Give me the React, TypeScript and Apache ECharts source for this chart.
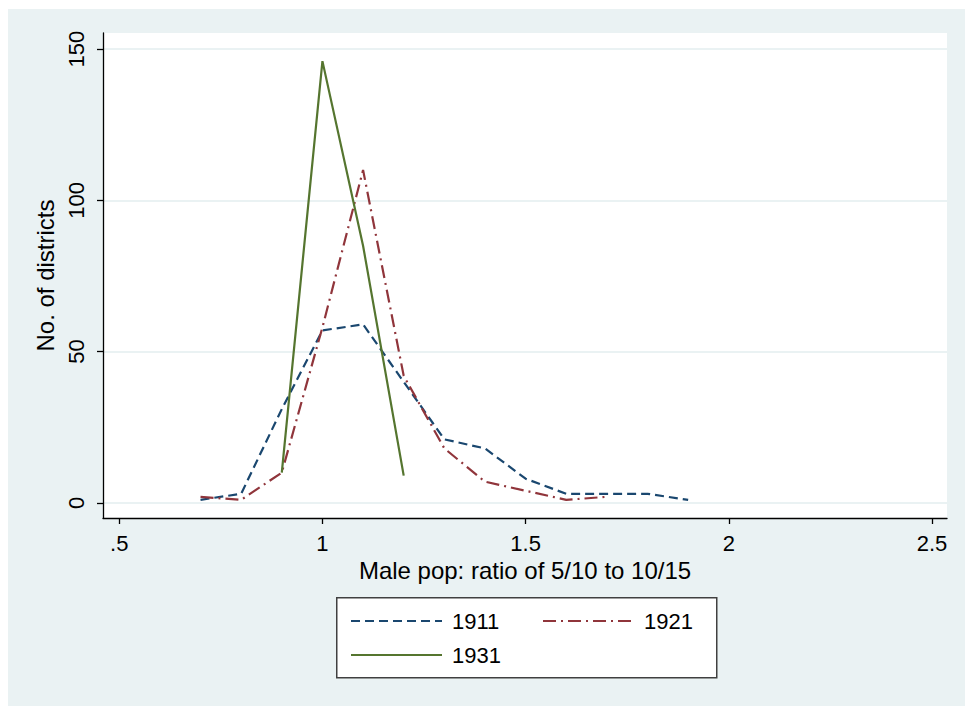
import React, { useEffect, useRef } from "react";
import * as echarts from "echarts";

const x1911 = [0.7, 0.8, 0.9, 1.0, 1.1, 1.2, 1.3, 1.4, 1.5, 1.6, 1.7, 1.8, 1.9];
const y1911 = [1, 3, 31, 57, 59, 40, 21, 18, 8, 3, 3, 3, 1];
const x1921 = [0.7, 0.8, 0.9, 1.0, 1.1, 1.2, 1.3, 1.4, 1.5, 1.6, 1.7];
const y1921 = [2, 1, 10, 58, 110, 42, 18, 7, 4, 1, 2];
const x1931 = [0.9, 1.0, 1.1, 1.2];
const y1931 = [10, 146, 85, 9];
const xTicks = [0.5, 1, 1.5, 2, 2.5];
const yTicks = [0, 50, 100, 150];

const FONT = "'Liberation Sans', Arial, Helvetica, sans-serif";
const pairs = (xs: number[], ys: number[]) => xs.map((x, i) => [x, ys[i]]);

export default function App() {
  const ref = useRef<HTMLDivElement>(null);
  useEffect(() => {
    if (!ref.current) return;
    const chart = echarts.init(ref.current, undefined, { renderer: "svg" });
    chart.setOption({
      animation: false,
      backgroundColor: "#eaf2f3",
      textStyle: { fontFamily: FONT },
      grid: {
        left: 95,
        right: 18,
        top: 24,
        bottom: 188,
        show: true,
        backgroundColor: "#ffffff",
        borderWidth: 0,
      },
      xAxis: {
        type: "value",
        min: 0.46,
        max: 2.537,
        name: "Male pop: ratio of 5/10 to 10/15",
        nameLocation: "middle",
        nameGap: 40,
        nameTextStyle: { fontSize: 24, color: "#000", fontFamily: FONT },
        axisLine: { show: true, onZero: false, lineStyle: { color: "#000", width: 1.3 } },
        axisTick: { show: true, length: 6, customValues: xTicks, lineStyle: { color: "#000", width: 1.3 } },
        axisLabel: {
          customValues: xTicks,
          fontSize: 22,
          color: "#000",
          margin: 14,
          fontFamily: FONT,
          formatter: (v: number) => (v === 0.5 ? ".5" : String(v)),
        },
        splitLine: { show: false },
      },
      yAxis: {
        type: "value",
        min: -5,
        max: 155.3,
        name: "No. of districts",
        nameLocation: "middle",
        nameGap: 42,
        nameTextStyle: { fontSize: 24, color: "#000", fontFamily: FONT },
        axisLine: { show: true, onZero: false, lineStyle: { color: "#000", width: 1.3 } },
        axisTick: { show: true, length: 6, customValues: yTicks, lineStyle: { color: "#000", width: 1.3 } },
        axisLabel: {
          customValues: yTicks,
          rotate: 90,
          fontSize: 22,
          color: "#000",
          margin: 16,
          fontFamily: FONT,
        },
        splitLine: { show: true, lineStyle: { color: "#eaf2f3", width: 2 } },
      },
      legend: {
        left: 337,
        top: 594,
        width: 400,
        orient: "horizontal",
        itemWidth: 91,
        itemHeight: 14,
        itemGap: 8,
        z: 10,
        itemStyle: { opacity: 0 },
        textStyle: {
          fontSize: 22,
          color: "#000",
          fontFamily: FONT,
          width: 82,
          lineHeight: 26,
          padding: [0, 0, 0, 5],
        },
        data: ["1911", "1921", "1931"],
      },
      graphic: [
        {
          type: "rect",
          left: 328,
          top: 588,
          z: 1,
          shape: { width: 380, height: 80 },
          style: { fill: "#ffffff", stroke: "#404040", lineWidth: 1.5 },
        },
      ],
      series: [
        {
          name: "1911",
          type: "line",
          symbol: "none",
          data: pairs(x1911, y1911),
          lineStyle: { color: "#1a476f", width: 2.2, type: [9, 5] },
          itemStyle: { color: "#1a476f" },
        },
        {
          name: "1921",
          type: "line",
          symbol: "none",
          data: pairs(x1921, y1921),
          lineStyle: { color: "#90353b", width: 2.2, type: [13, 5, 2, 5] },
          itemStyle: { color: "#90353b" },
        },
        {
          name: "1931",
          type: "line",
          symbol: "none",
          data: pairs(x1931, y1931),
          lineStyle: { color: "#55752f", width: 2.2 },
          itemStyle: { color: "#55752f" },
        },
      ],
    });
    return () => chart.dispose();
  }, []);
  return (
    <div
      ref={ref}
      style={{ position: "fixed", left: 8, top: 9, width: 957, height: 697 }}
    />
  );
}
